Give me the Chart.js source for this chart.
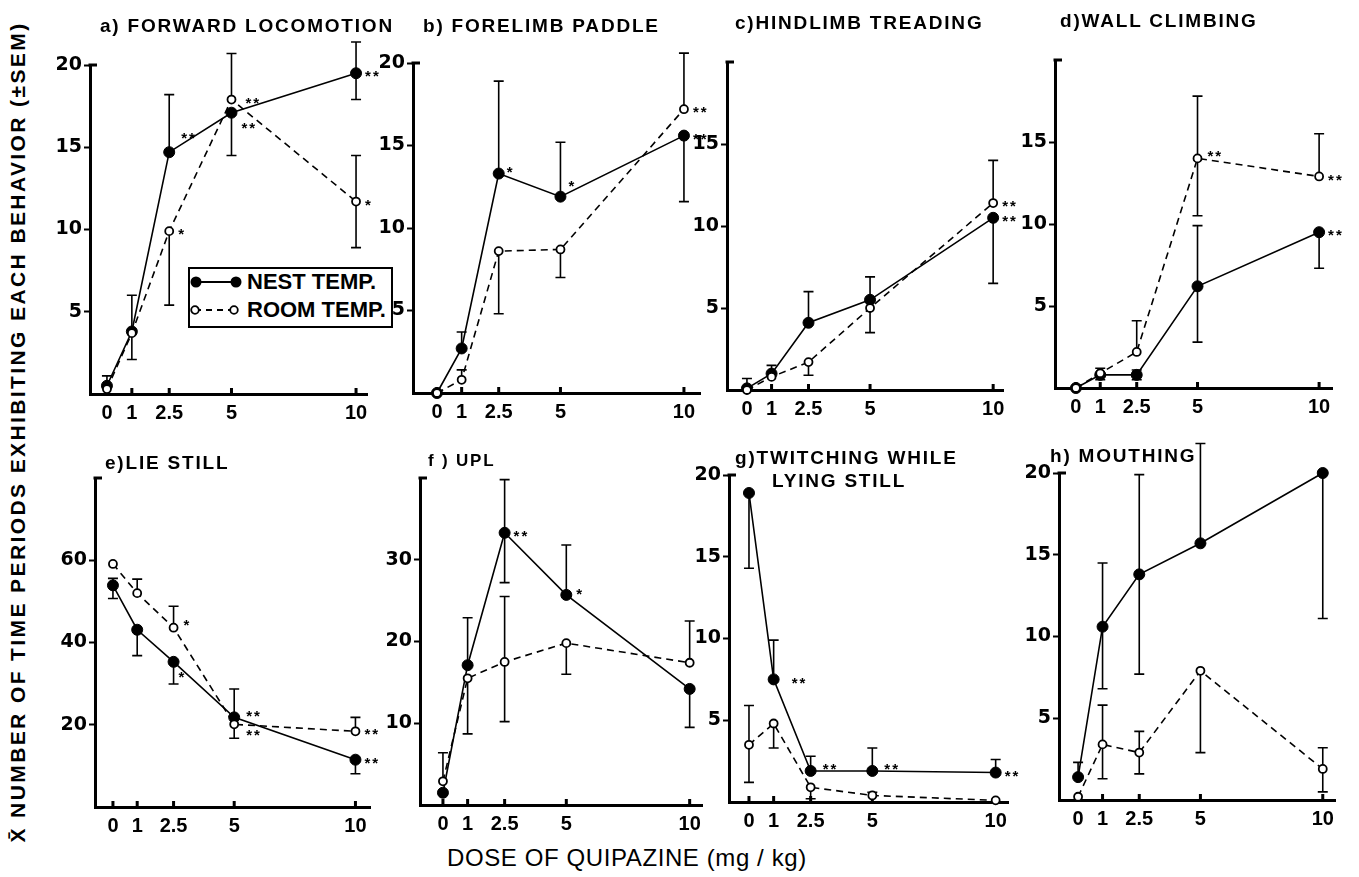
<!DOCTYPE html>
<html>
<head>
<meta charset="utf-8">
<script src="https://cdn.jsdelivr.net/npm/chart.js@4.4.1/dist/chart.umd.min.js"></script>
<style>
  html, body { margin: 0; padding: 0; background: #fff; }
  #page { position: relative; width: 1359px; height: 877px; overflow: hidden; font-family: "Liberation Sans", Arial, sans-serif; color: #000; }
  #page canvas { position: absolute; }
  .title { position: absolute; font-weight: bold; font-size: 19px; letter-spacing: 1.8px; white-space: nowrap; line-height: 1; transform: translateY(-50%); }
  #yTitle { position: absolute; left: 18px; top: 432px; transform: translate(-50%, -50%) rotate(-90deg); font-weight: bold; font-size: 21px; letter-spacing: 2.4px; white-space: nowrap; }
  #xTitle { position: absolute; left: 447px; top: 858px; transform: translateY(-50%); font-size: 24px; letter-spacing: 0.6px; white-space: nowrap; }
  #legend { position: absolute; left: 188px; top: 267px; width: 201px; height: 57px; border: 2px solid #000; background: #fff; }
  #legend svg { position: absolute; left: 0; top: 0; }
  #legend span { position: absolute; left: 57px; font-weight: bold; font-size: 22px; line-height: 1; transform: translateY(-50%); white-space: nowrap; }
</style>
</head>
<body>
<div id="page">
  <div id="yTitle">X&#772; NUMBER OF TIME PERIODS EXHIBITING EACH BEHAVIOR (±SEM)</div>
  <div id="xTitle">DOSE OF QUIPAZINE (mg / kg)</div>
</div>
<script>
(function () {
  // dose axis shared by every panel
  const doses = [0, 1, 2.5, 5, 10];

  // a) forward locomotion
  const fwdNest = [0.5, 3.8, 14.7, 17.1, 19.5];
  const fwdNestErr = [[null, 1.1], [2.1, 6.0], [null, 18.2], [14.5, null], [17.9, 21.4]];
  const fwdNestStars = ["", "", "**", "**", "**"];
  const fwdRoom = [0.3, 3.7, 9.9, 17.9, 11.7];
  const fwdRoomErr = [null, null, [5.4, null], [null, 20.7], [8.9, 14.5]];
  const fwdRoomStars = ["", "", "*", "**", "*"];

  // b) forelimb paddle
  const padNest = [0, 2.7, 13.3, 11.9, 15.6];
  const padNestErr = [null, [null, 3.7], [null, 18.9], [null, 15.2], [11.6, null]];
  const padNestStars = ["", "", "*", "*", "**"];
  const padRoom = [0, 0.8, 8.6, 8.7, 17.2];
  const padRoomErr = [null, [null, 1.4], [4.8, null], [7.0, null], [null, 20.6]];
  const padRoomStars = ["", "", "", "", "**"];

  // c) hindlimb treading
  const trdNest = [0.1, 1.0, 4.1, 5.5, 10.5];
  const trdNestErr = [[null, 0.7], [null, 1.5], [null, 6.0], [null, 6.9], [6.5, null]];
  const trdNestStars = ["", "", "", "", "**"];
  const trdRoom = [0, 0.8, 1.7, 5.0, 11.4];
  const trdRoomErr = [null, null, [0.9, null], [3.5, null], [null, 14.0]];
  const trdRoomStars = ["", "", "", "", "**"];

  // d) wall climbing
  const wallNest = [0, 0.8, 0.8, 6.2, 9.5];
  const wallNestErr = [null, [0.5, 1.2], [0.5, 1.1], [2.8, 9.9], [7.3, null]];
  const wallNestStars = ["", "", "", "", "**"];
  const wallRoom = [0, 0.9, 2.2, 14.0, 12.9];
  const wallRoomErr = [null, null, [null, 4.1], [10.5, 17.8], [null, 15.5]];
  const wallRoomStars = ["", "", "", "**", "**"];

  // e) lie still
  const lieNest = [53.9, 43.1, 35.3, 21.8, 11.5];
  const lieNestErr = [[50.7, 55.6], [36.8, null], [29.9, null], [null, 28.7], [8.1, null]];
  const lieNestStars = ["", "", "*", "**", "**"];
  const lieRoom = [59.1, 52.0, 43.6, 20.1, 18.4];
  const lieRoomErr = [null, [null, 55.4], [null, 48.8], [16.7, null], [null, 21.8]];
  const lieRoomStars = ["", "", "*", "**", "**"];

  // f) UPL
  const uplNest = [1.5, 17.1, 33.3, 25.7, 14.2];
  const uplNestErr = [null, [null, 22.9], [27.2, 39.8], [null, 31.8], [9.5, null]];
  const uplNestStars = ["", "", "**", "*", ""];
  const uplRoom = [2.9, 15.5, 17.5, 19.8, 17.4];
  const uplRoomErr = [[null, 6.4], [8.7, null], [10.2, 25.5], [16.0, null], [null, 22.5]];
  const uplRoomStars = ["", "", "", "", ""];

  // g) twitching while lying still
  const twNest = [18.9, 7.5, 1.9, 1.9, 1.8];
  const twNestErr = [[14.3, null], [null, 9.9], [null, 2.8], [null, 3.3], [null, 2.6]];
  const twNestStars = ["", "**", "**", "**", "**"];
  const twRoom = [3.5, 4.8, 0.9, 0.4, 0.1];
  const twRoomErr = [[1.2, 5.9], [3.3, null], [0.2, null], [null, 0.6], null];
  const twRoomStars = ["", "", "", "", ""];

  // h) mouthing
  const mouNest = [1.4, 10.6, 13.8, 15.7, 20.0];
  const mouNestErr = [[null, 2.3], [6.8, 14.5], [7.7, 19.9], [null, 21.8], [11.1, null]];
  const mouNestStars = ["", "", "", "", ""];
  const mouRoom = [0.2, 3.4, 2.9, 7.9, 1.9];
  const mouRoomErr = [null, [1.3, 5.8], [1.6, 4.2], [2.9, null], [0.5, 3.2]];
  const mouRoomStars = ["", "", "", "", ""];

  const FONT = "'Liberation Sans', Arial, sans-serif";
  const PAD_L = 50, PAD_T = 40, PAD_R = 40, PAD_B = 40;

  // layout of each panel on the page (pixel box of the plot area)
  const panels = [
    { title: ["a) FORWARD LOCOMOTION"], tx: 100, ty: 25,
      left: 90, right: 367, top: 65, bottom: 394, xMin: -0.68, xMax: 10.44, yMax: 20, yTicks: [5, 10, 15, 20],
      nest: fwdNest, nestErr: fwdNestErr, nestStars: fwdNestStars,
      room: fwdRoom, roomErr: fwdRoomErr, roomStars: fwdRoomStars,
      nudge: { "nest-2": [12, -17], "nest-3": [10, 12], "room-3": [14, 0] } },
    { title: ["b) FORELIMB PADDLE"], tx: 423, ty: 25,
      left: 413, right: 700, top: 63, bottom: 393, xMin: -0.97, xMax: 10.65, yMax: 20, yTicks: [5, 10, 15, 20],
      nest: padNest, nestErr: padNestErr, nestStars: padNestStars,
      room: padRoom, roomErr: padRoomErr, roomStars: padRoomStars,
      nudge: { "nest-2": [8, -5], "nest-3": [8, -14] } },
    { title: ["c)HINDLIMB TREADING"], tx: 735, ty: 22,
      left: 727, right: 1003, top: 62, bottom: 390, xMin: -0.81, xMax: 10.4, yMax: 20, yTicks: [5, 10, 15],
      nest: trdNest, nestErr: trdNestErr, nestStars: trdNestStars,
      room: trdRoom, roomErr: trdRoomErr, roomStars: trdRoomStars,
      nudge: {} },
    { title: ["d)WALL CLIMBING"], tx: 1060, ty: 20,
      left: 1055, right: 1332, top: 60, bottom: 388, xMin: -0.86, xMax: 10.53, yMax: 20, yTicks: [5, 10, 15],
      nest: wallNest, nestErr: wallNestErr, nestStars: wallNestStars,
      room: wallRoom, roomErr: wallRoomErr, roomStars: wallRoomStars,
      nudge: { "room-3": [10, -6] } },
    { title: ["e)LIE STILL"], tx: 105, ty: 462,
      left: 95, right: 370, top: 478, bottom: 807, xMin: -0.74, xMax: 10.6, yMax: 80, yTicks: [20, 40, 60],
      nest: lieNest, nestErr: lieNestErr, nestStars: lieNestStars,
      room: lieRoom, roomErr: lieRoomErr, roomStars: lieRoomStars,
      nudge: { "room-2": [10, -6], "nest-2": [5, 12], "nest-3": [12, -4], "room-3": [12, 8] } },
    { title: ["f ) UPL"], tx: 428, ty: 460, small: true,
      left: 420, right: 702, top: 478, bottom: 805, xMin: -0.93, xMax: 10.5, yMax: 40, yTicks: [10, 20, 30],
      nest: uplNest, nestErr: uplNestErr, nestStars: uplNestStars,
      room: uplRoom, roomErr: uplRoomErr, roomStars: uplRoomStars,
      nudge: { "nest-3": [10, -4] } },
    { title: ["g)TWITCHING WHILE", "LYING STILL"], tx: 735, ty: 457, tx2: 772, ty2: 480,
      left: 729, right: 1008, top: 475, bottom: 802, xMin: -0.81, xMax: 10.5, yMax: 20, yTicks: [5, 10, 15, 20],
      nest: twNest, nestErr: twNestErr, nestStars: twNestStars,
      room: twRoom, roomErr: twRoomErr, roomStars: twRoomStars,
      nudge: { "nest-1": [18, 0], "nest-2": [12, -5], "nest-3": [12, -5] } },
    { title: ["h) MOUTHING"], tx: 1050, ty: 455,
      left: 1059, right: 1335, top: 473, bottom: 800, xMin: -0.78, xMax: 10.5, yMax: 20, yTicks: [5, 10, 15, 20],
      nest: mouNest, nestErr: mouNestErr, nestStars: mouNestStars,
      room: mouRoom, roomErr: mouRoomErr, roomStars: mouRoomStars,
      nudge: {} }
  ];

  const page = document.getElementById("page");

  function toPoints(values) {
    return values.map(function (v, i) {
      return { x: doses[i], y: v };
    });
  }

  const decorPlugin = {
    id: "decor",
    beforeDatasetsDraw: function (chart) {
      const ctx = chart.ctx;
      const xs = chart.scales.x;
      const ys = chart.scales.y;
      const area = chart.chartArea;
      ctx.save();
      ctx.strokeStyle = "#000";
      ctx.fillStyle = "#000";

      // bracket at the top of the y axis
      ctx.lineWidth = 3;
      ctx.beginPath();
      ctx.moveTo(area.left - 1.5, area.top);
      ctx.lineTo(area.left + 7, area.top);
      ctx.stroke();

      // small inward marks on the dose axis
      doses.forEach(function (d) {
        const px = xs.getPixelForValue(d);
        ctx.fillRect(px - 1.5, area.bottom - 6, 3, 6);
      });

      // error bars
      ctx.lineWidth = 1.6;
      chart.data.datasets.forEach(function (ds) {
        ds.errors.forEach(function (e, i) {
          if (!e) return;
          const pt = ds.data[i];
          const px = xs.getPixelForValue(pt.x);
          const lo = ys.getPixelForValue(e[0] == null ? pt.y : e[0]);
          const hi = ys.getPixelForValue(e[1] == null ? pt.y : e[1]);
          ctx.beginPath();
          ctx.moveTo(px, lo);
          ctx.lineTo(px, hi);
          if (e[0] != null) { ctx.moveTo(px - 5, lo); ctx.lineTo(px + 5, lo); }
          if (e[1] != null) { ctx.moveTo(px - 5, hi); ctx.lineTo(px + 5, hi); }
          ctx.stroke();
        });
      });
      ctx.restore();
    },
    afterDatasetsDraw: function (chart) {
      const ctx = chart.ctx;
      const xs = chart.scales.x;
      const ys = chart.scales.y;
      const nudge = chart.options.plugins.decor.nudge || {};
      ctx.save();
      ctx.fillStyle = "#000";
      ctx.font = "bold 15px " + FONT;
      ctx.textBaseline = "middle";
      ctx.textAlign = "left";
      if ("letterSpacing" in ctx) ctx.letterSpacing = "2px";
      chart.data.datasets.forEach(function (ds) {
        ds.stars.forEach(function (s, i) {
          if (!s) return;
          const pt = ds.data[i];
          const off = nudge[ds.key + "-" + i] || [9, 0];
          const px = xs.getPixelForValue(pt.x) + off[0];
          const py = ys.getPixelForValue(pt.y) + off[1] + 4;
          ctx.fillText(s, px, py);
        });
      });
      ctx.restore();
    }
  };

  panels.forEach(function (p) {
    const w = p.right - p.left + PAD_L + PAD_R;
    const h = p.bottom - p.top + PAD_T + PAD_B;
    const canvas = document.createElement("canvas");
    canvas.width = w;
    canvas.height = h;
    canvas.style.left = (p.left - PAD_L) + "px";
    canvas.style.top = (p.top - PAD_T) + "px";
    canvas.style.width = w + "px";
    canvas.style.height = h + "px";
    page.appendChild(canvas);

    p.title.forEach(function (line, k) {
      const t = document.createElement("div");
      t.className = "title";
      t.textContent = line;
      t.style.left = (k === 0 ? p.tx : p.tx2) + "px";
      t.style.top = (k === 0 ? p.ty : p.ty2) + "px";
      if (p.small) t.style.fontSize = "17px";
      page.appendChild(t);
    });

    const xTickFont = { family: FONT, size: 20, weight: "bold" };
    const yTickFont = { family: "'DejaVu Sans', " + FONT, size: 19, weight: "bold" };

    new Chart(canvas.getContext("2d"), {
      type: "line",
      data: {
        datasets: [
          {
            key: "room",
            data: toPoints(p.room),
            errors: p.roomErr,
            stars: p.roomStars,
            borderColor: "#000",
            borderWidth: 1.6,
            borderDash: [7, 5],
            pointRadius: 4,
            pointBackgroundColor: "#fff",
            pointBorderColor: "#000",
            pointBorderWidth: 1.8,
            tension: 0,
            clip: false
          },
          {
            key: "nest",
            data: toPoints(p.nest),
            errors: p.nestErr,
            stars: p.nestStars,
            borderColor: "#000",
            borderWidth: 1.6,
            pointRadius: 5.5,
            pointBackgroundColor: "#000",
            pointBorderColor: "#000",
            pointBorderWidth: 1,
            tension: 0,
            clip: false
          }
        ]
      },
      options: {
        responsive: false,
        devicePixelRatio: 1,
        animation: false,
        events: [],
        layout: { padding: { left: 0, top: PAD_T, right: PAD_R, bottom: 0 } },
        plugins: {
          legend: { display: false },
          tooltip: { enabled: false },
          decor: { nudge: p.nudge }
        },
        scales: {
          x: {
            type: "linear",
            min: p.xMin,
            max: p.xMax,
            afterBuildTicks: function (s) {
              s.ticks = doses.map(function (v) { return { value: v }; });
            },
            afterFit: function (s) { s.height = PAD_B; },
            grid: { display: true, drawOnChartArea: false, drawTicks: false },
            border: { display: true, color: "#000", width: 3 },
            ticks: {
              color: "#000",
              font: xTickFont,
              padding: 7,
              autoSkip: false,
              maxRotation: 0,
              callback: function (v) { return String(v); }
            }
          },
          y: {
            type: "linear",
            min: 0,
            max: p.yMax,
            afterBuildTicks: function (s) {
              s.ticks = p.yTicks.map(function (v) { return { value: v }; });
            },
            afterFit: function (s) { s.width = PAD_L; },
            grid: { display: true, drawOnChartArea: false, drawTicks: true, tickLength: 6, tickWidth: 2, tickColor: "#000" },
            border: { display: true, color: "#000", width: 3 },
            ticks: { color: "#000", font: yTickFont, padding: 2 }
          }
        }
      },
      plugins: [decorPlugin]
    });
  });

  // legend box inside panel a
  const legend = document.createElement("div");
  legend.id = "legend";
  legend.innerHTML =
    '<svg width="60" height="57" viewBox="0 0 60 57">' +
    '<line x1="6" y1="13" x2="46" y2="13" stroke="#000" stroke-width="1.8"/>' +
    '<circle cx="6" cy="13" r="5.5" fill="#000"/>' +
    '<circle cx="46" cy="13" r="5.5" fill="#000"/>' +
    '<line x1="5" y1="41" x2="44" y2="41" stroke="#000" stroke-width="1.8" stroke-dasharray="6 5"/>' +
    '<circle cx="5" cy="41" r="3.8" fill="#fff" stroke="#000" stroke-width="1.8"/>' +
    '<circle cx="44" cy="41" r="3.8" fill="#fff" stroke="#000" stroke-width="1.8"/>' +
    "</svg>" +
    '<span style="top:13px">NEST TEMP.</span>' +
    '<span style="top:41px">ROOM TEMP.</span>';
  page.appendChild(legend);
})();
</script>
</body>
</html>
